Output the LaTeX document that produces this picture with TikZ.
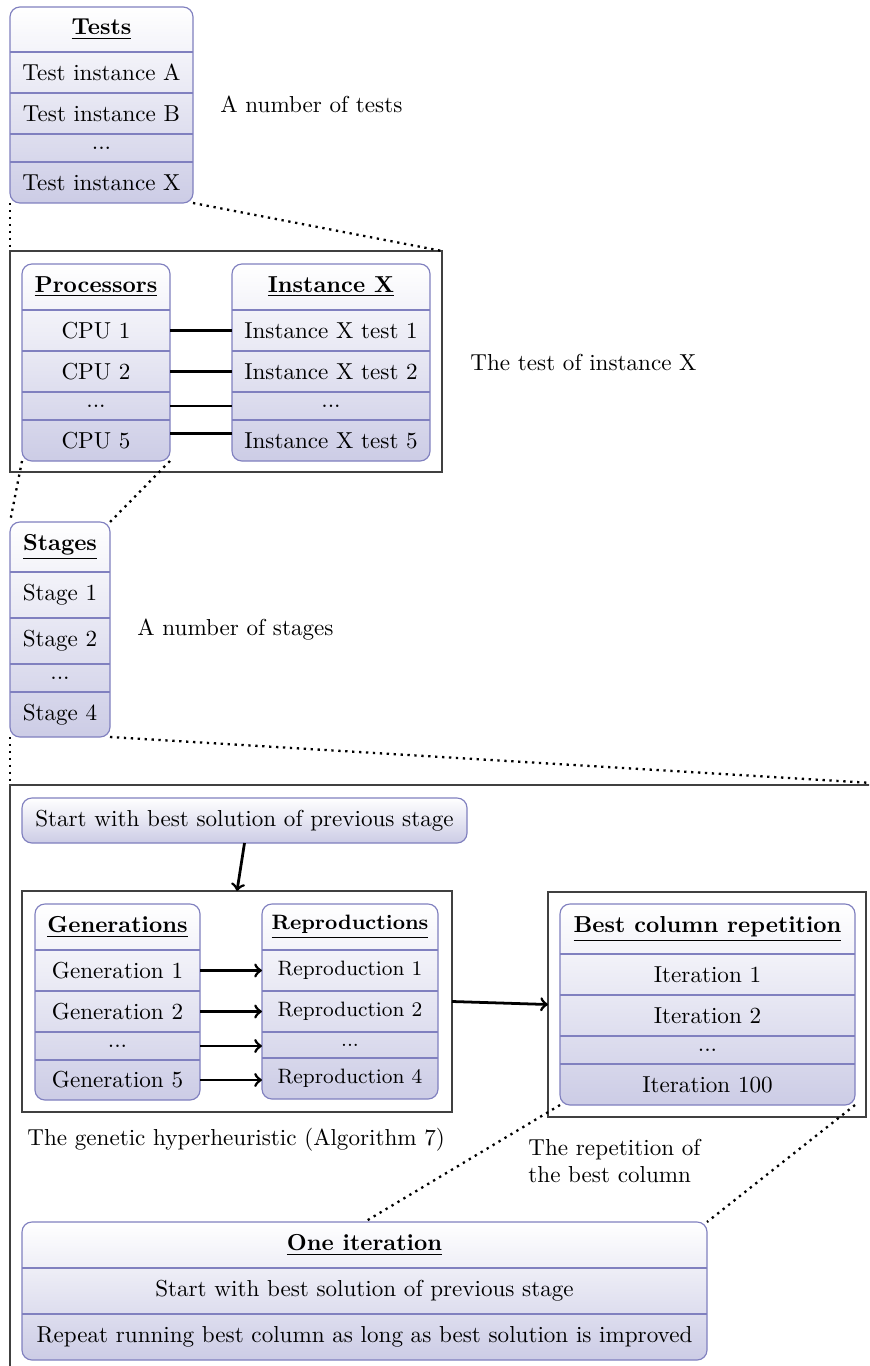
\documentclass[tikz,border=0pt]{standalone}
\usetikzlibrary{calc}

% one drawing unit in points
\newcommand{\pxl}{0.4329pt}
\newcommand{\hd}[1]{\underline{\textbf{#1}}}
% \tcell[options]{name}{x1}{x2}{y1}{y2}{text}: a box spanning the given extents
\newcommand{\tcell}[7][]{%
  \node[cellbox,#1,minimum width={(#4-#3)*\pxl},minimum height={(#6-#5)*\pxl}]
    (#2) at ({(#3+#4)/2},{(#5+#6)/2}) {#7};}

\tikzset{
  tablebox/.style={draw=blue!50!black!50, line width=0.5pt, rounded corners=4.3pt,
    top color=white, bottom color=blue!50!black!20},
  cellbox/.style={inner sep=0pt, outer sep=0pt, align=center},
  divider/.style={draw=blue!50!black!50, line width=0.5pt},
  zoomframe/.style={draw=black!75, semithick},
  zoomline/.style={line width=1pt, dotted},
  link/.style={very thick},
  flow/.style={very thick, ->},
  note/.style={anchor=west, inner sep=0pt, align=left},
}

\begin{document}
\begin{tikzpicture}[x=0.4329pt, y=-0.4329pt]
\useasboundingbox (0,0) rectangle (869,1366);
\fill[white] (0,0) rectangle (869,1366);
\clip (0,0) rectangle (869,1366);

% ---------- frames ----------
\tcell[zoomframe]{frame1}{10}{442}{251}{472}{}
\tcell[zoomframe]{frame2}{10}{905}{785}{1380}{}
\tcell[zoomframe]{frame3}{22}{452}{891}{1112}{}
\tcell[zoomframe]{frame4}{548}{866}{892}{1117}{}

% ---------- tests ----------
\tcell[tablebox]{tests}{10}{193}{7}{203}{}
\tcell{testsH}{10}{193}{7}{52}{\hd{Tests}}
\tcell{testsA}{10}{193}{52}{93}{Test instance A}
\tcell{testsB}{10}{193}{93}{134}{Test instance B}
\tcell{testsD}{10}{193}{134}{162}{...}
\tcell{testsX}{10}{193}{162}{203}{Test instance X}
\foreach \n in {testsH,testsA,testsB,testsD}
  \draw[divider] (\n.south west) -- (\n.south east);
\node[note] (lblTests) at (220,104) {A number of tests};

% ---------- processors and instance X ----------
\tcell[tablebox]{proc}{22}{170}{264}{461}{}
\tcell{procH}{22}{170}{264}{310}{\hd{Processors}}
\tcell{cpu1}{22}{170}{310}{351}{CPU 1}
\tcell{cpu2}{22}{170}{351}{392}{CPU 2}
\tcell{cpuD}{22}{170}{392}{420}{...}
\tcell{cpu5}{22}{170}{420}{461}{CPU 5}
\foreach \n in {procH,cpu1,cpu2,cpuD}
  \draw[divider] (\n.south west) -- (\n.south east);

\tcell[tablebox]{inst}{232}{430}{264}{461}{}
\tcell{instH}{232}{430}{264}{310}{\hd{Instance X}}
\tcell{ix1}{232}{430}{310}{351}{Instance X test 1}
\tcell{ix2}{232}{430}{351}{392}{Instance X test 2}
\tcell{ixD}{232}{430}{392}{420}{...}
\tcell{ix5}{232}{430}{420}{461}{Instance X test 5}
\foreach \n in {instH,ix1,ix2,ixD}
  \draw[divider] (\n.south west) -- (\n.south east);

\draw[link] (cpu1.east) -- (ix1.west);
\draw[link] (cpu2.east) -- (ix2.west);
\draw[link] (cpuD.east) -- (ixD.west);
\draw[link] ([yshift=3pt]cpu5.east) -- ([yshift=3pt]ix5.west);
\node[note] (lblInst) at (470,362) {The test of instance X};

% ---------- stages ----------
\tcell[tablebox]{stages}{10}{110}{522}{737}{}
\tcell{stH}{10}{110}{522}{572}{\hd{Stages}}
\tcell{st1}{10}{110}{572}{618}{Stage 1}
\tcell{st2}{10}{110}{618}{664}{Stage 2}
\tcell{stD}{10}{110}{664}{692}{...}
\tcell{st4}{10}{110}{692}{737}{Stage 4}
\foreach \n in {stH,st1,st2,stD}
  \draw[divider] (\n.south west) -- (\n.south east);
\node[note] (lblStages) at (137,630) {A number of stages};

% ---------- one stage ----------
\tcell[tablebox]{start}{22}{467}{798}{843}{Start with best solution of previous stage}

\tcell[tablebox]{gen}{35}{200}{904}{1100}{}
\tcell{genH}{35}{200}{904}{950}{\hd{Generations}}
\tcell{gen1}{35}{200}{950}{991}{Generation 1}
\tcell{gen2}{35}{200}{991}{1032}{Generation 2}
\tcell{genD}{35}{200}{1032}{1060}{...}
\tcell{gen5}{35}{200}{1060}{1100}{Generation 5}
\foreach \n in {genH,gen1,gen2,genD}
  \draw[divider] (\n.south west) -- (\n.south east);

\tcell[tablebox]{rep}{262}{438}{904}{1099}{}
\tcell[font=\small]{repH}{262}{438}{904}{950}{\hd{Reproductions}}
\tcell[font=\small]{rep1}{262}{438}{950}{991}{Reproduction 1}
\tcell[font=\small]{rep2}{262}{438}{991}{1032}{Reproduction 2}
\tcell[font=\small]{repD}{262}{438}{1032}{1058}{...}
\tcell[font=\small]{rep4}{262}{438}{1058}{1099}{Reproduction 4}
\foreach \n in {repH,rep1,rep2,repD}
  \draw[divider] (\n.south west) -- (\n.south east);

\draw[flow] (gen1.east) -- (rep1.west);
\draw[flow] (gen2.east) -- (rep2.west);
\draw[flow] (genD.east) -- (genD.east -| repD.west);
\draw[flow] (gen5.east) -- (gen5.east -| rep4.west);

\tcell[tablebox]{best}{560}{855}{904}{1105}{}
\tcell{bestH}{560}{855}{904}{954}{\hd{Best column repetition}}
\tcell{it1}{560}{855}{954}{995}{Iteration 1}
\tcell{it2}{560}{855}{995}{1036}{Iteration 2}
\tcell{itD}{560}{855}{1036}{1064}{...}
\tcell{it100}{560}{855}{1064}{1105}{Iteration 100}
\foreach \n in {bestH,it1,it2,itD}
  \draw[divider] (\n.south west) -- (\n.south east);

\draw[flow] (start.south) -- (frame3.north);
\draw[flow] (frame3.east) -- (frame4.west);

\node[note] (lblGen) at (27,1140) {The genetic hyperheuristic (Algorithm 7)};
\node[note] (lblRep) at (528,1161) {The repetition of\\the best column};

\tcell[tablebox]{one}{22}{707}{1222}{1360}{}
\tcell{oneH}{22}{707}{1222}{1268}{\hd{One iteration}}
\tcell{one1}{22}{707}{1268}{1314}{Start with best solution of previous stage}
\tcell{one2}{22}{707}{1314}{1360}{Repeat running best column as long as best solution is improved}
\foreach \n in {oneH,one1}
  \draw[divider] (\n.south west) -- (\n.south east);

% ---------- zoom lines ----------
\draw[zoomline] (tests.south west) -- (frame1.north west);
\draw[zoomline] (tests.south east) -- (frame1.north east);
\draw[zoomline] (proc.south west) -- (stages.north west);
\draw[zoomline] (proc.south east) -- (stages.north east);
\draw[zoomline] (stages.south west) -- (frame2.north west);
\draw[zoomline] (stages.south east) -- (frame2.north east);
\draw[zoomline] (best.south west) -- (one.north);
\draw[zoomline] (best.south east) -- (one.north east);
\end{tikzpicture}
\end{document}
